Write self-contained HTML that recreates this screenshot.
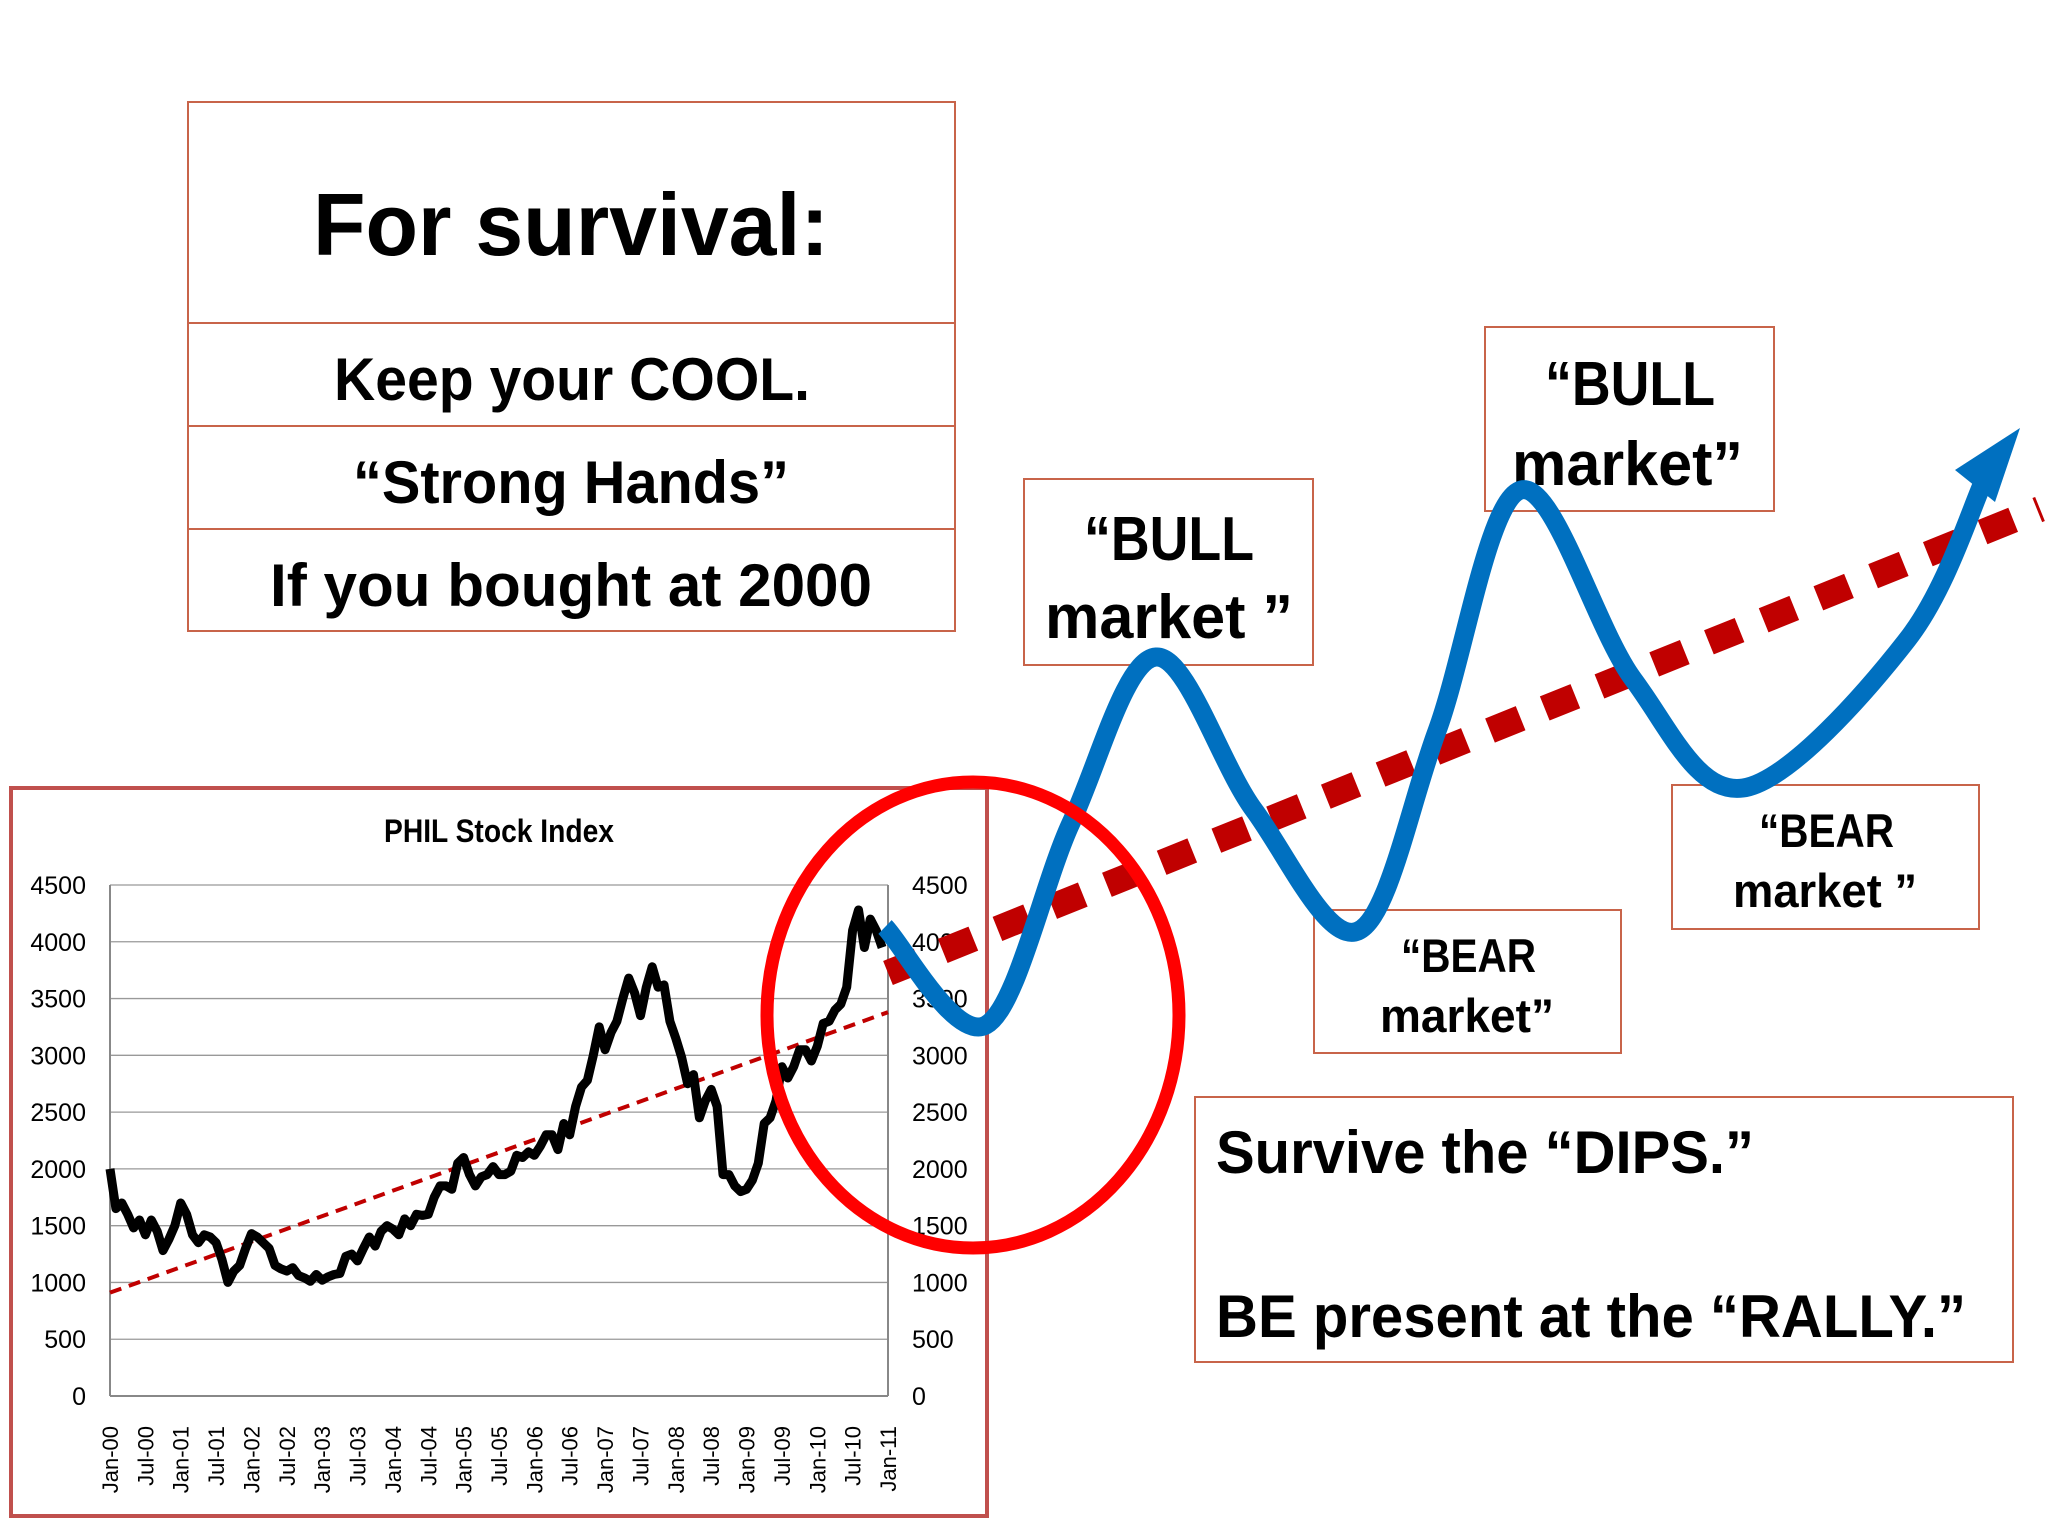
<!DOCTYPE html>
<html><head><meta charset="utf-8"><style>
html,body{margin:0;padding:0;background:#fff;}
svg{display:block;font-family:"Liberation Sans",sans-serif;}
.b{font-weight:bold;fill:#000;}
</style></head><body>
<svg id="s" width="2048" height="1536" viewBox="0 0 2048 1536" xmlns="http://www.w3.org/2000/svg">
<rect width="2048" height="1536" fill="#fff"/>
<g fill="none" stroke="#c8644a" stroke-width="2">
<rect x="188" y="102" width="767" height="529"/>
<line x1="188" y1="323" x2="955" y2="323"/><line x1="188" y1="426" x2="955" y2="426"/><line x1="188" y1="529" x2="955" y2="529"/>
</g>
<text class="b" x="313" y="255" font-size="88" textLength="516" lengthAdjust="spacingAndGlyphs">For survival:</text>
<text class="b" x="334" y="400" font-size="60" textLength="476" lengthAdjust="spacingAndGlyphs">Keep your COOL.</text>
<text class="b" x="353" y="503" font-size="60" textLength="436" lengthAdjust="spacingAndGlyphs">“Strong Hands”</text>
<text class="b" x="270" y="606" font-size="60" textLength="602" lengthAdjust="spacingAndGlyphs">If you bought at 2000</text>

<rect x="11" y="788" width="976" height="728" fill="#fff" stroke="#c0504d" stroke-width="4"/>
<text x="499" y="842" font-size="32" text-anchor="middle" font-weight="bold" textLength="230" lengthAdjust="spacingAndGlyphs">PHIL Stock Index</text>
<g id="chart"></g>

<g fill="#fff" stroke="#c8644a" stroke-width="2">
<rect x="1024" y="479" width="289" height="186"/>
<rect x="1485" y="327" width="289" height="184"/>
<rect x="1314" y="910" width="307" height="143"/>
<rect x="1672" y="785" width="307" height="144"/>
<rect x="1195" y="1097" width="818" height="265"/>
</g>
<text class="b" font-size="62"><tspan x="1084" y="560" textLength="170" lengthAdjust="spacingAndGlyphs">“BULL</tspan><tspan x="1045" y="638" textLength="248" lengthAdjust="spacingAndGlyphs">market ”</tspan></text>
<text class="b" font-size="62"><tspan x="1545" y="405" textLength="170" lengthAdjust="spacingAndGlyphs">“BULL</tspan><tspan x="1512" y="485" textLength="231" lengthAdjust="spacingAndGlyphs">market”</tspan></text>
<text class="b" font-size="47"><tspan x="1401" y="972" textLength="135" lengthAdjust="spacingAndGlyphs">“BEAR</tspan><tspan x="1380" y="1032" textLength="174" lengthAdjust="spacingAndGlyphs">market”</tspan></text>
<text class="b" font-size="47"><tspan x="1759" y="847" textLength="135" lengthAdjust="spacingAndGlyphs">“BEAR</tspan><tspan x="1733" y="907" textLength="184" lengthAdjust="spacingAndGlyphs">market ”</tspan></text>
<text class="b" x="1216" y="1173" font-size="60" textLength="538" lengthAdjust="spacingAndGlyphs">Survive the “DIPS.”</text>
<text class="b" x="1216" y="1337" font-size="60" textLength="750" lengthAdjust="spacingAndGlyphs">BE present at the “RALLY.”</text>

<line x1="888" y1="973" x2="2040" y2="509" stroke="#c00000" stroke-width="26" stroke-dasharray="33 26"/>
<path id="blue" fill="none" stroke="#0070c0" stroke-width="19" stroke-linecap="butt"/>
<polygon points="2020,428 1955,470 1995,502" fill="#0070c0"/>
<ellipse cx="973" cy="1015" rx="206" ry="233" fill="none" stroke="#ff0000" stroke-width="13"/>
</svg>
<script>
const months = 132;
const prices = [2000,1650,1700,1600,1480,1550,1420,1550,1450,1280,1380,1500,
1700,1600,1420,1350,1420,1400,1350,1200,1000,1100,1150,1300,
1430,1400,1350,1300,1150,1120,1100,1130,1060,1040,1010,1070,
1020,1050,1070,1080,1230,1250,1190,1300,1400,1320,1450,1500,
1470,1420,1560,1500,1600,1590,1600,1750,1850,1850,1820,2050,
2100,1950,1850,1930,1950,2020,1950,1950,1980,2120,2100,2150,
2120,2200,2300,2300,2170,2400,2300,2550,2720,2780,3000,3250,
3050,3200,3300,3500,3680,3550,3350,3600,3780,3600,3620,3300,
3150,2980,2750,2830,2450,2600,2700,2550,1950,1950,1850,1800,
1820,1900,2050,2400,2450,2600,2900,2800,2900,3050,3050,2950,
3080,3280,3300,3400,3450,3600,4100,4280,3950,4200,4100,3950];
const trendStart = 910, trendEnd = 3380;
const yTicks = [0,500,1000,1500,2000,2500,3000,3500,4000,4500];
const xLabels = ["Jan-00","Jul-00","Jan-01","Jul-01","Jan-02","Jul-02","Jan-03","Jul-03","Jan-04","Jul-04","Jan-05","Jul-05","Jan-06","Jul-06","Jan-07","Jul-07","Jan-08","Jul-08","Jan-09","Jul-09","Jan-10","Jul-10","Jan-11"];

const NS="http://www.w3.org/2000/svg";
const L=110,R=888,T=885,B=1396;
const X=i=>L+i/months*(R-L);
const Y=v=>B-v/4500*(B-T);
const g=document.getElementById('chart');
function mk(t,a){const e=document.createElementNS(NS,t);for(const k in a)e.setAttribute(k,a[k]);g.appendChild(e);return e;}
yTicks.forEach(v=>{
  const ln=mk('line',{x1:L,x2:R,y1:Y(v),y2:Y(v),stroke:v===0?'#888':'#999','stroke-width':v===0?2:1.3});
  
  
  const a=mk('text',{x:86,y:Y(v)+9,'font-size':25,'text-anchor':'end'});a.textContent=v;
  
  
  const b=mk('text',{x:912,y:Y(v)+9,'font-size':25});b.textContent=v;
  
  
});
const ax=mk('line',{x1:L,x2:L,y1:T,y2:B,stroke:'#888','stroke-width':2});


const ax2=mk('line',{x1:R,x2:R,y1:T,y2:B,stroke:'#888','stroke-width':2});


xLabels.forEach((s,i)=>{
  const x=X(i*6);
  const t=mk('text',{x:0,y:0,'font-size':22,'text-anchor':'end',transform:`translate(${x+8},${B+30}) rotate(-90)`});t.textContent=s;
  
  
});
const tl=mk('line',{x1:X(0),y1:Y(trendStart),x2:X(months),y2:Y(trendEnd),stroke:'#c00000','stroke-width':4,'stroke-dasharray':'12 8'});


const d=prices.map((v,i)=>(i?'L':'M')+X(i).toFixed(1)+' '+Y(v).toFixed(1)).join(' ');
const pl=mk('path',{d:d,fill:'none',stroke:'#000','stroke-width':9,'stroke-linejoin':'round'});



const P=[[885,927],[986,1025],[1071,823],[1156,657],[1254,810],[1358,931],[1437,731],[1521,490],[1633,679],[1743,788],[1907,640],[1985,478]];
let s='M'+P[0];
for(let i=0;i<P.length-1;i++){
  const p0=P[i-1]||P[i],p1=P[i],p2=P[i+1],p3=P[i+2]||P[i+1];
  const c1=[p1[0]+(p2[0]-p0[0])/6,p1[1]+(p2[1]-p0[1])/6];
  const c2=[p2[0]-(p3[0]-p1[0])/6,p2[1]-(p3[1]-p1[1])/6];
  s+=` C${c1} ${c2} ${p2}`;
}
document.getElementById('blue').setAttribute('d',s);
</script>
</body></html>
